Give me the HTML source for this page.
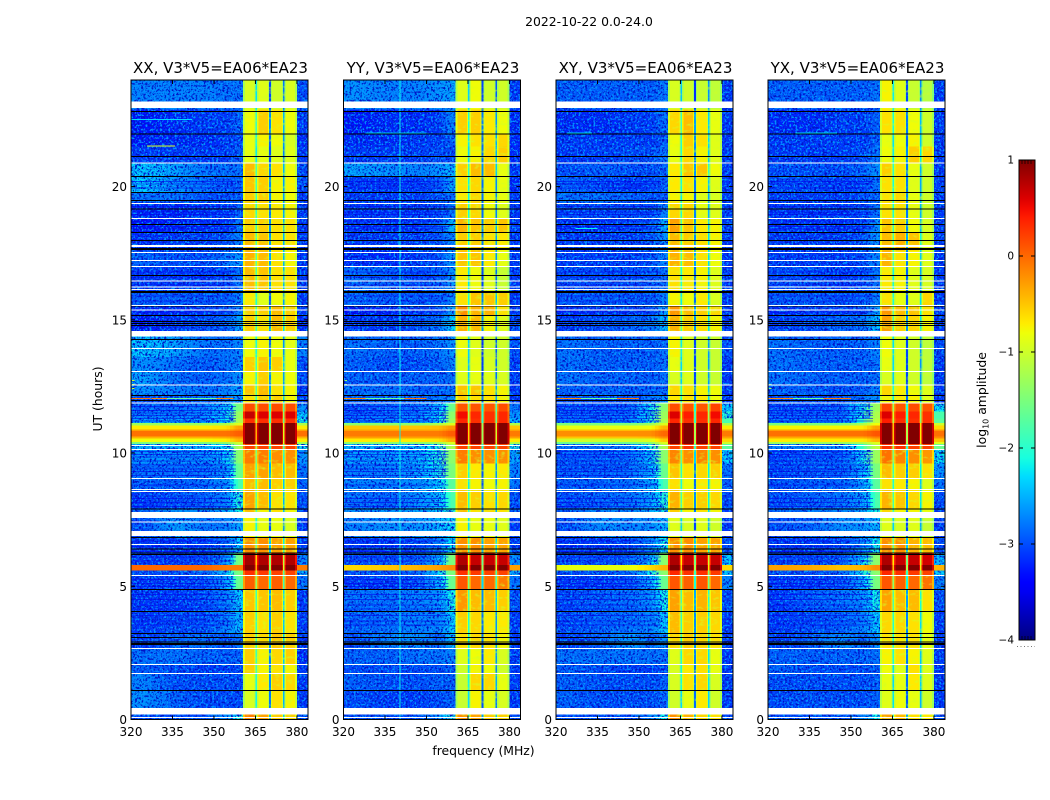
<!DOCTYPE html>
<html lang="en">
<head>
<meta charset="utf-8">
<title>2022-10-22 0.0-24.0</title>
<style>
html,body{margin:0;padding:0;background:#fff;}
svg{display:block;}
text{font-family:"DejaVu Sans","Liberation Sans",sans-serif;fill:#000;}
</style>
</head>
<body>
<svg id="figure" xmlns="http://www.w3.org/2000/svg" width="1050" height="800" viewBox="0 0 1050 800">
  <defs>
    <linearGradient id="jet-gradient" x1="0" y1="1" x2="0" y2="0"></linearGradient>
    <filter id="speck-dark" x="0" y="0" width="100%" height="100%" color-interpolation-filters="sRGB">
      <feTurbulence type="fractalNoise" baseFrequency="0.48" numOctaves="2" seed="3"/>
      <feColorMatrix values="0 0 0 0 0  0 0 0 0 0.08  0 0 0 0 0.78  6 0 0 0 -2.9"/>
      <feComposite operator="in" in2="SourceAlpha"/>
    </filter>
    <filter id="speck-light" x="0" y="0" width="100%" height="100%" color-interpolation-filters="sRGB">
      <feTurbulence type="fractalNoise" baseFrequency="0.48" numOctaves="2" seed="11"/>
      <feColorMatrix values="0 0 0 0 0  0 0 0 0 0.58  0 0 0 0 1  0 6 0 0 -3.1"/>
      <feComposite operator="in" in2="SourceAlpha"/>
    </filter>
    <filter id="speck-window" x="0" y="0" width="100%" height="100%" color-interpolation-filters="sRGB">
      <feTurbulence type="fractalNoise" baseFrequency="0.16 0.3" numOctaves="2" seed="7"/>
      <feColorMatrix values="0 0 0 0 0.82  0 0 0 0 1  0 0 0 0 0.15  0 2.2 0 0 -1.2"/>
      <feComposite operator="in" in2="SourceAlpha"/>
    </filter>
  </defs>
  <rect x="0" y="0" width="1050" height="800" fill="#fff"/>
  <text x="589" y="26" font-size="12.4" text-anchor="middle">2022-10-22 0.0-24.0</text>
  <text x="483.5" y="755" font-size="12.4" text-anchor="middle">frequency (MHz)</text>
  <text transform="translate(102,399) rotate(-90)" font-size="12.4" text-anchor="middle">UT (hours)</text>
  <g id="panels"></g>
  <g id="colorbar">
    <rect x="1019" y="160" width="16" height="480" fill="url(#jet-gradient)"/>
    <rect x="1019" y="160" width="16" height="480" fill="none" stroke="#000" stroke-width="1"/>
    <path d="M1022 160v4M1025 160v4M1028 160v4M1031 160v4M1022 640v-4M1025 640v-4M1028 640v-4M1031 640v-4" stroke="#000" stroke-width="1" fill="none" opacity="0.7"/>
    <line x1="1017" y1="646.5" x2="1035" y2="646.5" stroke="#777" stroke-width="1" stroke-dasharray="1 2.5"/>
    <text transform="translate(986,400) rotate(-90)" font-size="12.4" text-anchor="middle">log<tspan font-size="8" dy="2.5">10</tspan><tspan dy="-2.5"> amplitude</tspan></text>
  </g>
</svg>
<script>
// ---- chart data ----
const panelTitles = ["XX, V3*V5=EA06*EA23", "YY, V3*V5=EA06*EA23", "XY, V3*V5=EA06*EA23", "YX, V3*V5=EA06*EA23"];
const xTickLabels = [320, 335, 350, 365, 380];
const yTickLabels = [0, 5, 10, 15, 20];
const colorbarTickLabels = [1, 0, -1, -2, -3, -4];
// frequency bins (MHz)
const frequencyBins = [[320,330],[330,342],[342,352],[352,357],[357,360.5],[360.5,365.3],[365.3,370.2],[370.2,375.3],[375.3,380],[380,384]];
// UT band edges (hours)
const bandEdgesHours = [0,.43,1.09,1.73,2.07,2.67,3.22,4.06,4.88,5.4,5.6,5.8,6.25,6.85,7.56,7.9,8.6,9.05,9.6,10.13,10.33,10.42,10.54,10.63,10.82,10.88,11.04,11.12,11.3,11.55,11.9,12.15,12.55,13.06,13.6,14.37,15.16,15.5,16.04,17,17.6,18.27,18.8,19.4,19.8,20.37,20.9,21.5,22,22.9,24];
// log10 amplitude, one row per UT band, one value per frequency bin
const amplitudeXX = [
[-2.9,-2.9,-2.9,-2.5,-1.9,-.1,-.3,-.5,-.5,-2.9],
[-2.5,-2.8,-2.9,-2.9,-2.9,-.9,-.75,-.6,-.7,-3],
[-2.6,-2.9,-2.9,-2.9,-2.9,-.8,-.65,-.5,-.55,-3],
[-2.8,-2.9,-3,-3,-2.9,-.5,-.7,-.6,-.7,-3],
[-2.7,-2.7,-2.8,-2.8,-2.8,-.5,-.7,-.55,-.5,-3.1],
[-3,-2.8,-2.7,-2.9,-2.7,-.5,-.55,-.45,-.5,-3],
[-3,-2.9,-2.9,-2.6,-2.3,-.5,-.6,-.5,-.6,-3],
[-3,-3,-2.9,-2.6,-2.2,-.45,-.45,-.4,-.5,-3],
[-3,-3,-2.9,-2.4,-1.6,.05,0,.05,0,-2.7],
[-2.9,-2.9,-2.8,-2.2,-1.5,.3,.25,.2,.2,-2.3],
[0,0,0,-.1,-.1,1,1,1,1,-.1],
[-3,-3,-2.9,-2.5,-1.5,.85,.8,.8,.8,-2.6],
[-3,-3,-3,-2.7,-2.2,-.2,-.2,-.3,-.3,-3],
[-2.9,-2.4,-2.7,-2.6,-2.4,-.7,-.8,-.8,-.9,-3],
[-2.8,-2.5,-2.6,-2.4,-2,-.4,-.7,-.6,-.7,-3],
[-3,-2.9,-2.8,-2.6,-1.9,-.3,-.4,-.6,-.6,-2.9],
[-2.8,-2.8,-2.7,-2.5,-1.8,-.4,-.4,-.5,-.5,-2.8],
[-2.7,-2.7,-2.7,-2.4,-1.6,-.3,-.3,-.4,-.4,-2.7],
[-2.5,-2.5,-2.5,-2.2,-1.4,-.1,-.1,-.2,-.2,-2.5],
[-2.3,-2.3,-2.3,-2.1,-1.2,.2,.2,.2,.2,-2],
[-1.5,-1.5,-1.5,-1.4,-1,1,1,1,1,-1.3],
[-.8,-.8,-.8,-.7,-.4,1,1,1,1,-.7],
[-.4,-.4,-.4,-.35,-.2,1,1,1,1,-.4],
[-.05,-.05,-.05,-.05,.05,1,1,1,1,-.05],
[-.3,-.3,-.3,-.3,-.1,1,1,1,1,-.3],
[-.7,-.7,-.7,-.65,-.3,1,1,1,1,-.7],
[-1.3,-1.3,-1.3,-1.2,-.9,1,1,1,1,-1.2],
[-2.4,-2.4,-2.4,-2.1,-1.2,.3,.3,.3,.3,-2],
[-2.6,-2.6,-2.5,-2.1,-1.3,.7,.6,.6,.6,-2.2],
[-2.8,-2.7,-2.6,-2.2,-1.5,.15,.15,.15,.15,-2.5],
[-2.9,-2.9,-2.8,-2.7,-2.4,-.6,-.5,-.5,-.7,-3],
[-2.5,-2.6,-2.7,-2.6,-2.4,-.45,-.4,-.6,-.7,-3],
[-2.4,-2.7,-2.8,-2.7,-2.5,-.7,-.5,-.7,-.75,-2.9],
[-2.5,-2.7,-2.8,-2.7,-2.6,-.5,-.45,-.5,-.8,-2.9],
[-2.2,-2.4,-2.7,-2.7,-2.6,-.75,-.7,-.75,-.8,-2.6],
[-3.2,-3,-2.9,-2.8,-2.4,-.5,-.6,-.4,-.5,-3.1],
[-3.1,-3.1,-3,-2.9,-2.6,-.5,-.5,-.4,-.5,-3],
[-2.8,-2.8,-2.8,-2.8,-2.6,-.65,-.85,-.75,-.7,-3],
[-3,-3,-3,-2.9,-2.7,-.4,-.45,-.6,-.6,-3],
[-2.8,-2.9,-2.9,-2.7,-2.5,-.35,-.4,-.6,-.7,-3],
[-3.1,-3,-3,-2.9,-2.6,-.4,-.45,-.6,-.6,-3],
[-3.2,-3.1,-3,-3,-2.7,-.5,-.5,-.6,-.6,-3],
[-3.1,-3.1,-3,-3,-2.8,-.55,-.6,-.65,-.7,-3],
[-2.7,-2.7,-2.9,-2.9,-2.8,-.5,-.5,-.7,-.75,-3],
[-2.2,-2.5,-2.7,-2.8,-2.8,-.45,-.5,-.7,-.7,-2.9],
[-2.2,-2.4,-2.7,-2.7,-2.7,-.4,-.55,-.6,-.75,-2.9],
[-3,-3,-3,-3,-2.8,-.8,-.8,-.85,-.85,-3],
[-3.2,-3.1,-3.1,-3,-2.9,-.8,-.7,-.75,-.9,-3.1],
[-3.2,-3.1,-3,-3,-2.8,-.75,-.5,-.6,-.75,-3],
[-2.6,-2.6,-2.6,-2.7,-2.7,-.9,-.85,-.95,-.9,-2.9]];
const amplitudeYY = [
[-2.9,-2.9,-2.9,-2.5,-1.9,-.2,-.3,-.5,-.5,-2.9],
[-2.9,-3,-3,-2.9,-2.8,-1,-.7,-.8,-.9,-3],
[-2.8,-2.9,-2.9,-2.8,-2.8,-1,-.55,-.55,-.8,-3],
[-2.9,-2.9,-2.9,-2.9,-2.8,-.95,-.7,-.75,-.95,-3],
[-2.8,-2.8,-2.7,-2.7,-2.6,-.85,-.75,-.65,-.9,-3],
[-2.9,-2.6,-2.5,-2.8,-2.3,-.6,-.55,-.6,-.7,-3],
[-2.8,-2.7,-2.6,-2.6,-2.2,-.5,-.55,-.65,-.65,-3],
[-2.7,-2.7,-2.6,-2.5,-2,-.25,-.4,-.4,-.5,-2.9],
[-3,-3,-2.9,-2.3,-1.6,.1,0,0,-.1,-2.7],
[-2.9,-2.9,-2.8,-2.1,-1.5,.3,.25,.2,.2,-2.3],
[-.6,-.5,-.4,-.3,-.2,1,1,1,1,-.3],
[-2.9,-2.9,-2.8,-2.3,-1.5,.8,.7,.7,.7,-2.5],
[-3,-3,-2.9,-2.6,-2.1,-.2,-.2,-.3,-.3,-3],
[-2.6,-2.5,-2.5,-2.3,-2.1,-.7,-.8,-.8,-.85,-3],
[-2.5,-2.5,-2.4,-2.2,-1.9,-.4,-.6,-.55,-.6,-2.9],
[-2.7,-2.8,-2.5,-2.3,-1.8,-.4,-.5,-.6,-.55,-2.9],
[-2.6,-2.6,-2.5,-2.2,-1.7,-.6,-.7,-.75,-.7,-2.7],
[-2.6,-2.6,-2.4,-2,-1.5,-.5,-.65,-.7,-.65,-2.6],
[-2.4,-2.4,-2.3,-1.9,-1.4,-.1,-.2,-.2,-.2,-2.4],
[-2.3,-2.3,-2.3,-1.9,-1.2,.2,.2,.2,.2,-1.9],
[-1.4,-1.4,-1.4,-1.3,-.9,1,1,1,1,-1.2],
[-.7,-.7,-.7,-.65,-.35,1,1,1,1,-.7],
[-.3,-.3,-.3,-.3,-.15,1,1,1,1,-.3],
[-.1,-.1,-.1,-.1,.05,1,1,1,1,-.1],
[-.3,-.3,-.3,-.3,-.1,1,1,1,1,-.3],
[-.5,-.5,-.5,-.45,-.25,1,1,1,1,-.5],
[-1.4,-1.4,-1.4,-1.2,-.9,1,1,1,1,-1.2],
[-2.6,-2.6,-2.5,-2.1,-1.3,.35,.3,.3,.35,-2.3],
[-2.8,-2.7,-2.6,-2.1,-1.4,.5,.35,.3,.35,-2.5],
[-2.9,-2.8,-2.7,-2.3,-1.6,.1,.1,.1,.15,-2.7],
[-2.8,-2.8,-2.8,-2.7,-2.5,-.5,-.6,-.6,-.7,-3],
[-2.7,-2.7,-2.8,-2.8,-2.7,-.45,-.45,-.6,-.7,-3],
[-2.8,-2.8,-2.8,-2.8,-2.7,-.85,-.8,-.85,-.9,-3],
[-2.8,-2.9,-2.9,-2.8,-2.6,-.85,-.8,-.9,-.95,-3],
[-2.7,-2.8,-2.8,-2.7,-2.5,-.75,-.85,-.95,-.95,-2.9],
[-3,-3,-2.9,-2.7,-2.2,-.35,-.4,-.7,-.85,-2.9],
[-3.2,-3.1,-3,-2.9,-2.4,-.2,-.35,-.35,-.6,-3],
[-2.7,-2.8,-2.8,-2.8,-2.6,-.6,-.45,-.45,-.5,-3],
[-2.7,-2.8,-2.9,-2.8,-2.5,-.65,-.75,-.85,-1,-3],
[-3.1,-3.1,-3,-2.9,-2.5,-.45,-.45,-.65,-.8,-3],
[-3,-3,-3,-2.9,-2.6,-.5,-.5,-.6,-.65,-3],
[-3,-3,-3,-2.8,-2.3,-.35,-.45,-.5,-.45,-3],
[-3,-3,-3,-2.9,-2.7,-.5,-.55,-.75,-.85,-3],
[-3,-3,-3,-2.9,-2.7,-.65,-.55,-.7,-.8,-3],
[-3,-3,-3,-2.8,-2.4,-.6,-.55,-.7,-.8,-3.1],
[-2.4,-2.5,-2.6,-2.5,-2.3,-.5,-.4,-.4,-.8,-3],
[-3,-3,-3,-2.9,-2.9,-.75,-.7,-.55,-.5,-3.1],
[-3.1,-3.1,-3,-3,-2.8,-.7,-.6,-.6,-.55,-3.1],
[-3.2,-3.1,-3.1,-3,-2.6,-.5,-.5,-.65,-.75,-3.1],
[-2.5,-2.6,-2.6,-2.5,-2.4,-.85,-.75,-.95,-.95,-3]];
const amplitudeXY = [
[-2.9,-2.9,-2.9,-2.6,-2,-.2,-.35,-.55,-.6,-2.9],
[-2.8,-2.9,-2.9,-2.9,-2.8,-.95,-.8,-.65,-.95,-3],
[-2.8,-2.9,-2.9,-2.9,-2.8,-.9,-.6,-.55,-.9,-3],
[-2.8,-2.9,-3,-3,-2.9,-.9,-.65,-.6,-.8,-3],
[-2.7,-2.7,-2.7,-2.7,-2.7,-.85,-.55,-.55,-.8,-3],
[-3,-2.8,-2.4,-2.8,-2.5,-.55,-.5,-.55,-.6,-3],
[-2.9,-2.8,-2.7,-2.6,-2.2,-.4,-.5,-.5,-.55,-3],
[-2.9,-2.8,-2.7,-2.5,-2,-.3,-.4,-.35,-.45,-2.9],
[-3,-3,-2.9,-2.3,-1.6,.1,.05,.1,0,-2.6],
[-2.9,-2.9,-2.8,-2,-1.4,.35,.3,.3,.25,-2.2],
[-.85,-.85,-.85,-.6,-.4,1,1,1,1,-.6],
[-2.9,-2.9,-2.8,-2.2,-1.4,.8,.7,.7,.7,-2.2],
[-3,-3,-2.9,-2.5,-2,-.2,-.2,-.3,-.3,-2.9],
[-2.9,-2.5,-2.6,-2.5,-2.3,-.85,-.9,-.85,-.95,-3],
[-2.8,-2.6,-2.6,-2.4,-2,-.5,-.7,-.6,-.7,-3],
[-2.9,-2.8,-2.7,-2.4,-1.9,-.35,-.5,-.5,-.55,-2.9],
[-2.8,-2.8,-2.7,-2.4,-1.8,-.6,-.75,-.65,-.7,-2.8],
[-2.8,-2.8,-2.7,-2.3,-1.6,-.45,-.6,-.55,-.5,-2.7],
[-2.8,-2.8,-2.7,-2.1,-1.4,-.15,-.2,-.15,-.2,-2.2],
[-2.7,-2.7,-2.6,-1.9,-1.2,.2,.3,.2,.2,-1.7],
[-1.6,-1.6,-1.6,-1.4,-.9,1,1,1,1,-1],
[-1,-1,-1,-.9,-.5,1,1,1,1,-.6],
[-.5,-.5,-.5,-.45,-.2,1,1,1,1,-.3],
[-.2,-.2,-.2,-.2,0,1,1,1,1,-.1],
[-.45,-.45,-.45,-.4,-.15,1,1,1,1,-.3],
[-.85,-.85,-.85,-.8,-.4,1,1,1,1,-.7],
[-1.5,-1.5,-1.5,-1.3,-.9,1,1,1,1,-1.2],
[-2.7,-2.7,-2.6,-1.9,-1.2,.35,.3,.3,.35,-1.8],
[-2.8,-2.8,-2.7,-1.9,-1.3,.6,.4,.35,.5,-1.9],
[-2.9,-2.9,-2.8,-2,-1.4,.15,.1,.1,.2,-2.2],
[-2.9,-2.9,-2.9,-2.7,-2.5,-.65,-.6,-.65,-.75,-3],
[-2.8,-2.8,-2.8,-2.8,-2.7,-.55,-.6,-.7,-.75,-3],
[-2.7,-2.8,-2.8,-2.8,-2.7,-.9,-.85,-.95,-1,-3],
[-2.7,-2.8,-2.8,-2.8,-2.7,-.8,-.85,-.95,-1,-3],
[-2.7,-2.8,-2.8,-2.8,-2.7,-.7,-.85,-.95,-1,-2.9],
[-3,-2.9,-2.8,-2.7,-2.3,-.35,-.5,-.6,-.7,-3],
[-3.1,-3,-3,-2.9,-2.4,-.25,-.4,-.5,-.55,-3],
[-2.8,-2.8,-2.8,-2.8,-2.6,-.7,-.75,-.65,-.9,-3],
[-2.9,-2.9,-2.9,-2.8,-2.7,-.6,-.65,-.7,-.85,-3],
[-3,-3,-3,-2.9,-2.6,-.35,-.4,-.6,-.75,-3],
[-3,-3,-3,-2.9,-2.5,-.4,-.5,-.6,-.7,-3],
[-3,-3,-2.9,-2.8,-2.3,-.3,-.45,-.65,-.7,-3],
[-2.9,-2.9,-2.9,-2.9,-2.6,-.55,-.55,-.8,-.85,-3],
[-2.7,-2.7,-2.8,-2.9,-2.8,-.7,-.7,-.85,-.9,-3],
[-2.8,-2.9,-3,-2.9,-2.8,-.65,-.6,-.7,-.85,-3],
[-2.9,-2.8,-2.9,-2.9,-2.8,-.65,-.45,-.45,-.75,-3],
[-3,-3,-2.9,-2.9,-2.7,-.8,-.55,-.7,-.85,-3],
[-3,-3,-3,-3,-2.8,-.75,-.5,-.6,-.85,-3],
[-3.1,-3.1,-3,-3,-2.7,-.55,-.4,-.65,-.8,-3],
[-2.8,-2.8,-2.8,-2.8,-2.7,-.9,-.95,-1,-1.05,-3]];
const amplitudeYX = [
[-2.9,-2.9,-2.9,-2.6,-2,-.3,-.4,-.6,-.65,-2.9],
[-2.9,-2.9,-2.9,-2.9,-2.8,-.85,-.75,-.8,-.95,-3],
[-2.9,-2.9,-2.9,-2.9,-2.8,-.8,-.8,-.65,-.85,-3],
[-2.8,-2.9,-2.9,-2.9,-2.8,-.75,-.85,-.6,-.85,-3],
[-2.8,-2.8,-2.8,-2.8,-2.7,-.7,-.6,-.7,-.85,-3],
[-3,-2.8,-2.5,-2.8,-2.5,-.6,-.6,-.6,-.8,-3],
[-3,-2.9,-2.8,-2.6,-2.2,-.55,-.55,-.6,-.75,-3],
[-3,-2.8,-2.7,-2.5,-2,-.3,-.4,-.4,-.6,-2.9],
[-3,-3,-2.9,-2.3,-1.5,.1,.05,0,-.05,-2.6],
[-2.9,-2.9,-2.8,-2,-1.4,.35,.3,.25,.2,-2.2],
[-.3,-.35,-.5,-.4,-.2,1,1,1,1,-.4],
[-2.9,-2.9,-2.8,-2.1,-1.4,.8,.7,.7,.65,-2.3],
[-3,-3,-2.9,-2.5,-2,-.2,-.2,-.35,-.4,-2.9],
[-2.9,-2.8,-2.5,-2.5,-2.3,-.85,-.9,-.85,-1,-3],
[-2.8,-2.7,-2.6,-2.4,-2,-.55,-.7,-.7,-.8,-3],
[-2.9,-2.8,-2.7,-2.4,-1.8,-.35,-.45,-.55,-.7,-2.9],
[-2.9,-2.8,-2.8,-2.4,-1.7,-.6,-.65,-.7,-.85,-2.7],
[-2.9,-2.8,-2.8,-2.3,-1.5,-.4,-.5,-.5,-.6,-2.5],
[-2.9,-2.8,-2.8,-2,-1.3,-.05,-.15,-.2,-.25,-2.1],
[-2.6,-2.6,-2.5,-1.8,-1.1,.3,.3,.2,.2,-1.6],
[-1.3,-1.3,-1.3,-1.2,-.9,1,1,1,1,-.9],
[-.7,-.7,-.7,-.7,-.4,1,1,1,1,-.5],
[-.35,-.35,-.35,-.35,-.15,1,1,1,1,-.2],
[-.05,-.05,-.05,-.05,.1,1,1,1,1,-.05],
[-.3,-.3,-.3,-.3,-.1,1,1,1,1,-.25],
[-.75,-.75,-.75,-.7,-.3,1,1,1,1,-.6],
[-1.5,-1.5,-1.5,-1.2,-.8,1,1,1,1,-1],
[-2.7,-2.7,-2.6,-1.8,-1.1,.4,.3,.3,.3,-1.7],
[-2.8,-2.8,-2.7,-1.9,-1.2,.6,.4,.35,.3,-1.8],
[-2.9,-2.9,-2.8,-2,-1.3,.2,.1,.15,.1,-2.1],
[-2.9,-2.9,-2.9,-2.7,-2.5,-.7,-.65,-.7,-.85,-3],
[-2.8,-2.8,-2.9,-2.8,-2.6,-.55,-.65,-.75,-.85,-3],
[-2.7,-2.8,-2.8,-2.8,-2.7,-.9,-.85,-.95,-1.05,-3],
[-2.7,-2.8,-2.8,-2.8,-2.7,-.8,-.85,-.95,-1.05,-3],
[-2.7,-2.8,-2.8,-2.8,-2.6,-.75,-.85,-.95,-1.05,-2.9],
[-3,-2.9,-2.8,-2.7,-2.2,-.3,-.5,-.55,-.7,-3],
[-3.1,-3,-3,-2.9,-2.4,-.25,-.4,-.45,-.6,-3],
[-2.8,-2.8,-2.9,-2.8,-2.6,-.6,-.8,-.85,-.55,-3],
[-2.9,-2.9,-3,-2.9,-2.7,-.65,-.7,-.85,-.9,-3],
[-3,-3,-3,-2.9,-2.6,-.35,-.6,-.7,-.85,-3],
[-3,-3,-3,-2.9,-2.5,-.4,-.35,-.45,-.85,-3],
[-3,-3,-3,-2.9,-2.5,-.45,-.5,-.75,-.9,-3],
[-3,-3,-3,-2.9,-2.7,-.6,-.6,-.8,-.95,-3],
[-3,-3,-3,-2.9,-2.8,-.6,-.55,-.8,-.95,-3],
[-2.9,-2.9,-3,-2.9,-2.7,-.6,-.6,-.85,-.95,-3],
[-2.9,-2.9,-2.9,-2.8,-2.5,-.5,-.6,-.8,-.95,-3],
[-3,-3,-3,-2.9,-2.7,-.75,-.7,-.5,-.55,-3],
[-3,-3,-3,-3,-2.8,-.8,-.75,-.7,-.95,-3],
[-3.1,-3.1,-3,-3,-2.8,-.6,-.6,-.75,-.95,-3],
[-2.8,-2.8,-2.8,-2.8,-2.7,-.7,-.85,-1,-1.1,-3]];
const panelAmplitudes = [amplitudeXX, amplitudeYY, amplitudeXY, amplitudeYX];
// narrow channel gaps between spectral windows: centre MHz and depth below the neighbouring level, per panel
const notchChannelsMHz = [365.35, 370.25, 375.3];
const notchDepths = [[-1.4,-2.2,-1.9],[-1.6,-2.3,-2],[-1.5,-2.2,-1.7],[-1.5,-2.2,-1.7]];
// fully flagged blocks [start hour, end hour]
const flaggedBlockHours = [[.18,.43],[6.88,7.08],[7.56,7.79],[14.37,14.58],[17.73,17.8],[22.94,23.19]];
// single flagged integrations
const flaggedRowHours = [.08,1.73,2.07,2.67,5.41,6.57,7.42,8.56,8.64,9.04,10.13,10.29,11.88,12.55,13.06,13.92,15.36,15.53,16.14,16.24,16.45,17,17.23,17.52,18.81,19.36,20.89];
// zero-amplitude integrations
const zeroRowHours = [1.09,2.82,2.86,2.91,3.08,3.22,4.06,4.88,6.19,6.25,6.39,6.83,7.9,11.97,12.16,14.26,14.79,14.86,14.94,15.16,15.51,16.02,16.06,16.66,17.63,17.67,17.97,18.27,18.57,19.15,19.47,19.77,20.37,21.12,21.98,22.82];
// faint darker integrations in the off-band channels
const weakRowHours = [3.55,3.7,3.9,4.15,4.3,4.5,4.7,5,5.1,5.25,5.95,6.1,6.3,6.5,6.7,8,8.15,8.3,8.8,9.15,9.3,9.4,9.55,9.7,9.85,9.95,10.05,11.2,11.3,11.4,11.5,11.6,11.75,15.3,15.7,15.9,16.3,16.6,16.8,18.4,18.5,18.7,18.95,19.05,19.25,19.95,20.1,20.2];
// narrow interference streaks [panel, hour, start MHz, end MHz, log amplitude]
const rfiStreaks = [
[0,21.5,325.8,335.9,-.9],[0,12.03,320,327,-.1],[0,12.03,327.5,333,-.2],[0,12.03,351,357,-.2],[0,12.03,333,351,-1.6],
[1,12.03,320,328,-.2],[1,12.03,342,350,-.1],[1,12.03,328,342,-1.6],
[2,12.03,320,329,-.2],[2,12.03,342,350,-.1],[2,12.03,329,342,-1.6],
[3,12.03,320,329,-.2],[3,12.03,340,350,-.1],[3,12.03,329,340,-1.6],
[0,12.7,320.4,321.2,-1],[0,12.55,320.4,321.2,-1],[0,12.4,320.4,321.2,-1],[1,12.7,320.4,321.2,-1.4],[1,12.55,320.4,321.2,-1.4],[2,12.55,320.4,321.2,-1.4],[2,12.4,320.4,321.2,-1.4],[3,12.55,320.4,321.2,-1.4],[3,12.4,320.4,321.2,-1.4],
[2,18.4,327,335,-2.2],[2,22.0,324,333,-2.3],[3,22.0,330,345,-2.3],[1,22.0,328,350,-2.4],[0,22.5,320,342,-2.3]];
// persistent single-channel interference [panel, MHz, log amplitude]
const rfiChannels = [[1,340.2,-2.2]];
// ---- end chart data ----

const SVGNS = "http://www.w3.org/2000/svg";
const panelLefts = [131, 343.5, 556, 768];
const panelWidth = 177, plotTop = 80, plotBottom = 719.5;
const freqMin = 320, freqMax = 384, hourMin = 0, hourMax = 24;
const cbarTop = 160, cbarBottom = 640, cbarMin = -4, cbarMax = 1;
const backgroundShade = -0.12, windowShade = -0.04, windowEdgeShade = -0.35;

function xScale(left, mhz){ return left + (mhz - freqMin) / (freqMax - freqMin) * panelWidth; }
function yScale(hour){ return plotBottom - (hour - hourMin) / (hourMax - hourMin) * (plotBottom - plotTop); }
function cbarScale(v){ return cbarBottom - (v - cbarMin) / (cbarMax - cbarMin) * (cbarBottom - cbarTop); }
function ramp(t, pts){
  if (t <= pts[0][0]) return pts[0][1];
  for (let i = 1; i < pts.length; i++) {
    if (t <= pts[i][0]) {
      const a = pts[i-1], b = pts[i];
      return a[1] + (b[1] - a[1]) * (t - a[0]) / (b[0] - a[0]);
    }
  }
  return pts[pts.length-1][1];
}
function jet(v){
  const t = Math.max(0, Math.min(1, (v - cbarMin) / (cbarMax - cbarMin)));
  const r = ramp(t, [[.35,0],[.66,1],[.89,1],[1,.5]]);
  const g = ramp(t, [[.125,0],[.375,1],[.64,1],[.91,0]]);
  const b = ramp(t, [[0,.5],[.11,1],[.34,1],[.65,0]]);
  return "rgb(" + Math.round(r*255) + "," + Math.round(g*255) + "," + Math.round(b*255) + ")";
}
function shadeBackground(v){ return v < -1.8 ? v + backgroundShade : v; }
function shadeWindow(v){ return v < -.3 ? v + windowShade : v; }
// smooth shading across the off-band bins (centre to centre)
function offBandLevel(row, mhz){
  const centres = [0,1,2,3,4].map(function(c){ return (frequencyBins[c][0] + frequencyBins[c][1]) / 2; });
  return ramp(mhz, centres.map(function(m, c){ return [m, row[c]]; }));
}
function make(tag, parent){
  const el = document.createElementNS(SVGNS, tag);
  parent.appendChild(el);
  return el;
}
function box(el, x, y, w, h, fill){
  el.setAttribute("x", x);
  el.setAttribute("y", y);
  el.setAttribute("width", w);
  el.setAttribute("height", h);
  el.setAttribute("fill", fill);
  el.setAttribute("shape-rendering", "crispEdges");
}

const gradient = document.getElementById("jet-gradient");
for (let i = 0; i <= 50; i++) {
  const stop = make("stop", gradient);
  stop.setAttribute("offset", (i * 2) + "%");
  stop.setAttribute("stop-color", jet(cbarMin + (cbarMax - cbarMin) * i / 50));
  
  
}

const panelsRoot = document.getElementById("panels");
panelTitles.forEach(function(title, p){
  const left = panelLefts[p];
  const right = left + panelWidth;
  const group = make("g", panelsRoot);
  
  

  const heat = make("g", group);
  
  
  const darkSpecks = document.createElementNS(SVGNS, "g");
  darkSpecks.setAttribute("filter", "url(#speck-dark)");
  
  
  const lightSpecks = document.createElementNS(SVGNS, "g");
  lightSpecks.setAttribute("filter", "url(#speck-light)");
  
  
  const windowSpecks = document.createElementNS(SVGNS, "g");
  windowSpecks.setAttribute("filter", "url(#speck-window)");
  
  

  panelAmplitudes[p].forEach(function(row, b){
    const yA = yScale(bandEdgesHours[b + 1]);
    const yB = yScale(bandEdgesHours[b]);
    row.forEach(function(value, c){
      const x0 = xScale(left, frequencyBins[c][0]);
      const x1 = xScale(left, frequencyBins[c][1]);
      const isWindow = c >= 5 && c <= 8;
      if (c < 5) {
        const lo = frequencyBins[c][0];
        const step = (frequencyBins[c][1] - lo) / 4;
        for (let k = 0; k < 4; k++) {
          const mhz = lo + step * k;
          const sub = make("rect", heat);
          box(sub, xScale(left, mhz), yA, xScale(left, mhz + step) - xScale(left, mhz), yB - yA, jet(shadeBackground(offBandLevel(row, mhz + step / 2))));
          
          
        }
      } else {
        const cell = make("rect", heat);
        box(cell, x0, yA, x1 - x0, yB - yA, jet(isWindow ? shadeWindow(value) : shadeBackground(value)));
        
        
      }
      if (isWindow) {
        const edgeA = make("rect", heat);
        box(edgeA, x0, yA, 2, yB - yA, jet(value + windowEdgeShade));
        
        
        const edgeB = make("rect", heat);
        box(edgeB, x1 - 2, yA, 2, yB - yA, jet(value + windowEdgeShade));
        
        
        if (value < 0) {
          const w = make("rect", windowSpecks);
          box(w, x0, yA, x1 - x0, yB - yA, "#000");
          
          
        }
      }
      if (value < -1.8) {
        const d = make("rect", darkSpecks);
        box(d, x0, yA, x1 - x0, yB - yA, "#000");
        
        
        const l = make("rect", lightSpecks);
        box(l, x0, yA, x1 - x0, yB - yA, "#000");
        
        
      }
    });
    notchChannelsMHz.forEach(function(mhz, n){
      const level = Math.max(row[5 + n], row[6 + n]) + notchDepths[p][n];
      const notch = make("rect", heat);
      box(notch, xScale(left, mhz) - 0.8, yA, 1.6, yB - yA, jet(level));
      
      
    });
  });
  group.appendChild(windowSpecks);
  group.appendChild(darkSpecks);
  group.appendChild(lightSpecks);

  weakRowHours.forEach(function(h){
    const weak = make("rect", group);
    box(weak, left, yScale(h) - 0.5, xScale(left, 358) - left, 1, jet(-3.5));
    weak.setAttribute("fill-opacity", "0.55");
    
    
  });
  rfiChannels.forEach(function(ch){
    if (ch[0] !== p) return;
    const line = make("rect", group);
    box(line, xScale(left, ch[1]), plotTop, 1, plotBottom - plotTop, jet(ch[2]));
    
    
  });
  rfiStreaks.forEach(function(s){
    if (s[0] !== p) return;
    const streak = make("rect", group);
    box(streak, xScale(left, s[2]), yScale(s[1]) - 1, xScale(left, s[3]) - xScale(left, s[2]), 1, jet(s[4]));
    
    
  });
  zeroRowHours.forEach(function(h){
    const rowEl = make("rect", group);
    box(rowEl, left, yScale(h) - 0.5, panelWidth, 1, "#000");
    
    
  });
  flaggedRowHours.forEach(function(h){
    const rowEl = make("rect", group);
    box(rowEl, left, yScale(h) - 0.5, panelWidth, 1, "#fff");
    
    
  });
  flaggedBlockHours.forEach(function(b){
    const blockEl = make("rect", group);
    box(blockEl, left, yScale(b[1]), panelWidth, yScale(b[0]) - yScale(b[1]), "#fff");
    
    
  });

  const frame = make("rect", group);
  frame.setAttribute("x", left);
  frame.setAttribute("y", plotTop);
  frame.setAttribute("width", panelWidth);
  frame.setAttribute("height", plotBottom - plotTop);
  frame.setAttribute("fill", "none");
  frame.setAttribute("stroke", "#000");
  frame.setAttribute("stroke-width", "1");
  
  

  const titleEl = make("text", group);
  titleEl.setAttribute("x", left + panelWidth / 2 + 1);
  titleEl.setAttribute("y", 73);
  titleEl.setAttribute("font-size", "15");
  titleEl.setAttribute("text-anchor", "middle");
  titleEl.textContent = title;
  
  

  xTickLabels.forEach(function(v){
    const x = xScale(left, v);
    const tickBottom = make("line", group);
    tickBottom.setAttribute("x1", x);
    tickBottom.setAttribute("x2", x);
    tickBottom.setAttribute("y1", plotBottom);
    tickBottom.setAttribute("y2", plotBottom - 4);
    tickBottom.setAttribute("stroke", "#000");
    
    
    const tickTop = make("line", group);
    tickTop.setAttribute("x1", x);
    tickTop.setAttribute("x2", x);
    tickTop.setAttribute("y1", plotTop);
    tickTop.setAttribute("y2", plotTop + 4);
    tickTop.setAttribute("stroke", "#000");
    
    
    const lab = make("text", group);
    lab.setAttribute("x", x);
    lab.setAttribute("y", 736);
    lab.setAttribute("font-size", "12");
    lab.setAttribute("text-anchor", "middle");
    lab.textContent = v;
    
    
  });
  yTickLabels.forEach(function(v){
    const y = yScale(v);
    const tickLeft = make("line", group);
    tickLeft.setAttribute("x1", left);
    tickLeft.setAttribute("x2", left + 4);
    tickLeft.setAttribute("y1", y);
    tickLeft.setAttribute("y2", y);
    tickLeft.setAttribute("stroke", "#000");
    
    
    const tickRight = make("line", group);
    tickRight.setAttribute("x1", right);
    tickRight.setAttribute("x2", right - 4);
    tickRight.setAttribute("y1", y);
    tickRight.setAttribute("y2", y);
    tickRight.setAttribute("stroke", "#000");
    
    
    const lab = make("text", group);
    lab.setAttribute("x", left - 4);
    lab.setAttribute("y", y + 4.5);
    lab.setAttribute("font-size", "12");
    lab.setAttribute("text-anchor", "end");
    lab.textContent = v;
    
    
  });
});

const cbar = document.getElementById("colorbar");
colorbarTickLabels.forEach(function(v){
  const y = cbarScale(v);
  const tickL = make("line", cbar);
  tickL.setAttribute("x1", 1019);
  tickL.setAttribute("x2", 1023);
  tickL.setAttribute("y1", y);
  tickL.setAttribute("y2", y);
  tickL.setAttribute("stroke", "#000");
  
  
  const tickR = make("line", cbar);
  tickR.setAttribute("x1", 1035);
  tickR.setAttribute("x2", 1031);
  tickR.setAttribute("y1", y);
  tickR.setAttribute("y2", y);
  tickR.setAttribute("stroke", "#000");
  
  
  const lab = make("text", cbar);
  lab.setAttribute("x", 1014);
  lab.setAttribute("y", y + 3.5);
  lab.setAttribute("font-size", "10.5");
  lab.setAttribute("text-anchor", "end");
  lab.textContent = String(v).replace("-", "\u2212");
  
  
});
</script>
</body>
</html>
